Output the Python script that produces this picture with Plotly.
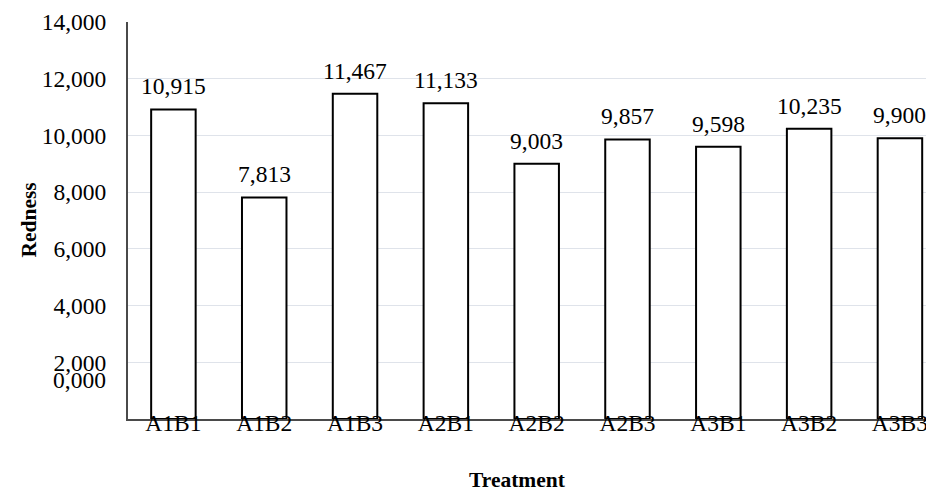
import plotly.graph_objects as go

categories = ["A1B1", "A1B2", "A1B3", "A2B1", "A2B2", "A2B3", "A3B1", "A3B2", "A3B3"]
redness = [10.915, 7.813, 11.467, 11.133, 9.003, 9.857, 9.598, 10.235, 9.900]
tick_values = [2, 4, 6, 8, 10, 12, 14]
zero_label = "0,000"

FONT = "Liberation Serif, Times New Roman, serif"
NUM_SIZE = 23.5

fig = go.Figure()
fig.add_trace(go.Bar(
    x=list(range(len(categories))),
    y=redness,
    width=0.49,
    marker=dict(color="white", line=dict(color="black", width=2)),
    hoverinfo="skip",
))

def fmt(v):
    return f"{v:.3f}".replace(".", ",")

annotations = []
for i, v in enumerate(redness):
    annotations.append(dict(
        x=i, y=v, xref="x", yref="y", text=fmt(v), showarrow=False,
        yanchor="bottom", yshift=8, font=dict(family=FONT, size=NUM_SIZE, color="black"),
    ))
annotations.append(dict(
    x=0, y=1.375, xref="paper", yref="y", text=zero_label, showarrow=False,
    xanchor="right", yanchor="middle", xshift=-20,
    font=dict(family=FONT, size=NUM_SIZE, color="black"),
))
annotations.append(dict(
    x=-0.124, y=0.5, xref="paper", yref="paper", text="<b>Redness</b>", showarrow=False,
    textangle=-90, xanchor="center", yanchor="middle",
    font=dict(family=FONT, size=21.5, color="black"),
))
annotations.append(dict(
    x=0.483, y=-0.154, xref="paper", yref="paper", text="<b>Treatment</b>", showarrow=False,
    xanchor="center", yanchor="middle",
    font=dict(family=FONT, size=21.5, color="black"),
))

# the page body adds an 8px margin; size the figure so the plot lands where the reference has it
fig.update_layout(
    width=926, height=480,
    margin=dict(l=120, r=0, t=14, b=69),
    paper_bgcolor="white", plot_bgcolor="white",
    separators=",.",
    showlegend=False,
    annotations=annotations,
    xaxis=dict(
        range=[-0.5, 8.375],
        tickmode="array",
        tickvals=list(range(len(categories))),
        ticktext=categories,
        showgrid=False,
        showline=True, linecolor="#4a4a4a", linewidth=2,
        ticks="",
        ticklabelstandoff=-18,
        tickfont=dict(family=FONT, size=NUM_SIZE, color="black"),
        zeroline=False,
    ),
    yaxis=dict(
        range=[0, 14],
        tickmode="array",
        tickvals=tick_values,
        ticktext=[fmt(v) for v in tick_values],
        showgrid=True, gridcolor="#dfe3ea", gridwidth=1,
        showline=True, linecolor="#4a4a4a", linewidth=2,
        ticks="",
        ticklabelstandoff=15,
        tickfont=dict(family=FONT, size=NUM_SIZE, color="black"),
        zeroline=False,
    ),
)

fig.write_html("out.html")
